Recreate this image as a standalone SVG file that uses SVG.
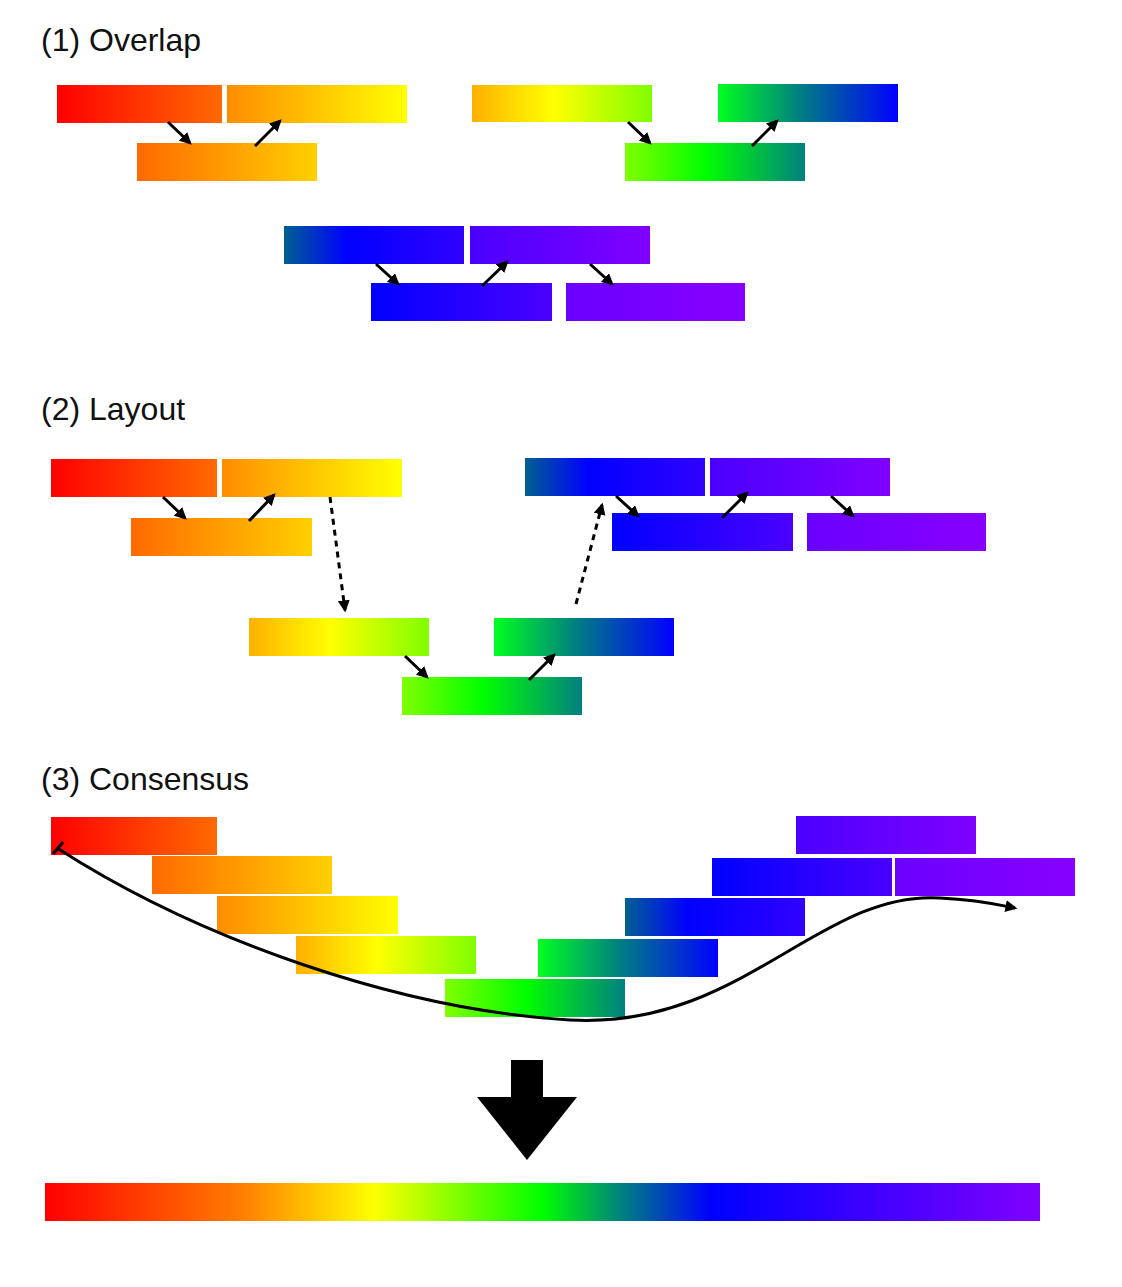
<svg xmlns="http://www.w3.org/2000/svg" width="1122" height="1287" viewBox="0 0 1122 1287">
<style>
.t{font-family:"Liberation Sans",Arial,sans-serif;font-size:32px;fill:#111}
.a{stroke:#000;stroke-width:3;fill:none;marker-end:url(#h)}
.d{stroke:#000;stroke-width:3;fill:none;stroke-dasharray:6,5;marker-end:url(#h)}
</style>
<defs>
<marker id="h" viewBox="0 0 10 10" refX="8" refY="5" markerWidth="4" markerHeight="4" orient="auto"><path d="M0,0L10,5L0,10z" fill="#000"/></marker>
<linearGradient id="gA"><stop offset="0" stop-color="#ff0000"/><stop offset="1" stop-color="#ff6a00"/></linearGradient>
<linearGradient id="gB"><stop offset="0" stop-color="#ff8c00"/><stop offset="1" stop-color="#ffff00"/></linearGradient>
<linearGradient id="gC"><stop offset="0" stop-color="#ff6a00"/><stop offset="1" stop-color="#ffd000"/></linearGradient>
<linearGradient id="gD"><stop offset="0" stop-color="#ffb000"/><stop offset="0.45" stop-color="#ffff00"/><stop offset="1" stop-color="#80ff00"/></linearGradient>
<linearGradient id="gE"><stop offset="0" stop-color="#00ff20"/><stop offset="0.45" stop-color="#008080"/><stop offset="1" stop-color="#0000ff"/></linearGradient>
<linearGradient id="gF"><stop offset="0" stop-color="#80ff00"/><stop offset="0.45" stop-color="#00ff00"/><stop offset="1" stop-color="#008080"/></linearGradient>
<linearGradient id="gG"><stop offset="0" stop-color="#006090"/><stop offset="0.35" stop-color="#0000ff"/><stop offset="1" stop-color="#3000ff"/></linearGradient>
<linearGradient id="gH"><stop offset="0" stop-color="#4a00ff"/><stop offset="1" stop-color="#8000ff"/></linearGradient>
<linearGradient id="gI"><stop offset="0" stop-color="#0000ff"/><stop offset="1" stop-color="#4a00ff"/></linearGradient>
<linearGradient id="gJ"><stop offset="0" stop-color="#6a00ff"/><stop offset="1" stop-color="#8800ff"/></linearGradient>
<linearGradient id="gAll"><stop offset="0" stop-color="#ff0000"/><stop offset="0.2" stop-color="#ff8000"/><stop offset="0.33" stop-color="#ffff00"/><stop offset="0.5" stop-color="#00ff00"/><stop offset="0.58" stop-color="#008080"/><stop offset="0.67" stop-color="#0000ff"/><stop offset="1" stop-color="#8000ff"/></linearGradient>
</defs>
<text class="t" x="41" y="51">(1) Overlap</text>
<text class="t" x="41" y="420">(2) Layout</text>
<text class="t" x="41" y="790">(3) Consensus</text>
<g id="overlap">
<rect x="57" y="85" width="165" height="38" fill="url(#gA)"/>
<rect x="227" y="85" width="180" height="38" fill="url(#gB)"/>
<rect x="137" y="143" width="180" height="38" fill="url(#gC)"/>
<rect x="472" y="85" width="180" height="37" fill="url(#gD)"/>
<rect x="718" y="84" width="180" height="38" fill="url(#gE)"/>
<rect x="625" y="143" width="180" height="38" fill="url(#gF)"/>
<rect x="284" y="226" width="180" height="38" fill="url(#gG)"/>
<rect x="470" y="226" width="180" height="38" fill="url(#gH)"/>
<rect x="371" y="283" width="181" height="38" fill="url(#gI)"/>
<rect x="566" y="283" width="179" height="38" fill="url(#gJ)"/>
</g>
<g id="layout">
<rect x="51" y="459" width="166" height="38" fill="url(#gA)"/>
<rect x="222" y="459" width="180" height="38" fill="url(#gB)"/>
<rect x="131" y="518" width="181" height="38" fill="url(#gC)"/>
<rect x="249" y="618" width="180" height="38" fill="url(#gD)"/>
<rect x="494" y="618" width="180" height="38" fill="url(#gE)"/>
<rect x="402" y="677" width="180" height="38" fill="url(#gF)"/>
<rect x="525" y="458" width="180" height="38" fill="url(#gG)"/>
<rect x="710" y="458" width="180" height="38" fill="url(#gH)"/>
<rect x="612" y="513" width="181" height="38" fill="url(#gI)"/>
<rect x="807" y="513" width="179" height="38" fill="url(#gJ)"/>
</g>
<g id="consensus">
<rect x="51" y="817" width="166" height="38" fill="url(#gA)"/>
<rect x="152" y="856" width="180" height="38" fill="url(#gC)"/>
<rect x="217" y="896" width="181" height="38" fill="url(#gB)"/>
<rect x="296" y="936" width="180" height="38" fill="url(#gD)"/>
<rect x="538" y="939" width="180" height="38" fill="url(#gE)"/>
<rect x="445" y="979" width="180" height="38" fill="url(#gF)"/>
<rect x="625" y="898" width="180" height="38" fill="url(#gG)"/>
<rect x="712" y="858" width="180" height="38" fill="url(#gI)"/>
<rect x="895" y="858" width="180" height="38" fill="url(#gJ)"/>
<rect x="796" y="816" width="180" height="38" fill="url(#gH)"/>
</g>
<g id="result">
<rect x="511" y="1060" width="32" height="38" fill="#000"/>
<polygon points="477,1097 577,1097 527,1160" fill="#000"/>
<rect x="45" y="1183" width="995" height="38" fill="url(#gAll)"/>
</g>
<g id="connectors">
<path class="a" d="M168,122L190,143"/>
<path class="a" d="M255,146L280,121"/>
<path class="a" d="M628,122L650,143"/>
<path class="a" d="M752,146L777,121"/>
<path class="a" d="M376,264L398,284"/>
<path class="a" d="M482,286L507,262"/>
<path class="a" d="M590,264L612,284"/>
<path class="a" d="M163,497L185,518"/>
<path class="a" d="M249,521L274,495"/>
<path class="a" d="M405,656L427,677"/>
<path class="a" d="M529,680L554,655"/>
<path class="a" d="M616,496L638,516"/>
<path class="a" d="M722,518L747,493"/>
<path class="a" d="M831,496L853,516"/>
<path class="d" d="M330,497L345,610"/>
<path class="d" d="M576,604L602,505"/>
<path class="a" d="M57,848C200,940 400,1010 570,1020C740,1030 820,890 940,898C980,900 1000,905 1015,908"/>
<path d="M53,854L63,842" stroke="#000" stroke-width="3"/>
</g>
</svg>
